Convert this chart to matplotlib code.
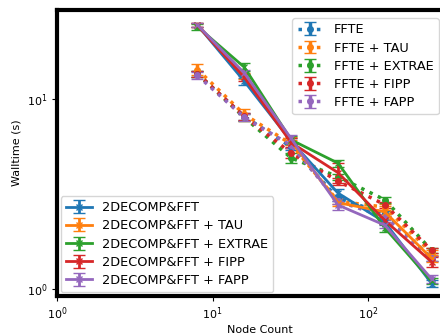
import matplotlib
matplotlib.use("Agg")
import matplotlib.pyplot as plt

nodes = [8, 16, 32, 64, 128, 256]

# 2DECOMP&FFT runs (solid)
dc_labels = ["2DECOMP&FFT", "2DECOMP&FFT + TAU", "2DECOMP&FFT + EXTRAE",
             "2DECOMP&FFT + FIPP", "2DECOMP&FFT + FAPP"]
dc_times = [
    [24.5, 12.4, 6.0, 3.2, 2.25, 1.07],
    [24.6, 13.2, 6.0, 2.85, 2.55, 1.45],
    [24.0, 14.7, 6.1, 4.6, 2.1, 1.1],
    [24.4, 13.0, 5.9, 4.1, 2.3, 1.39],
    [24.5, 13.7, 6.2, 2.77, 2.17, 1.13],
]
dc_err = [
    [0.6, 0.5, 0.2, 0.15, 0.08, 0.04],
    [0.6, 0.5, 0.3, 0.12, 0.2, 0.06],
    [0.8, 0.7, 0.3, 0.2, 0.1, 0.04],
    [0.6, 0.5, 0.3, 0.5, 0.1, 0.08],
    [0.6, 0.5, 0.3, 0.15, 0.08, 0.05],
]

# FFTE runs (dotted)
ff_labels = ["FFTE", "FFTE + TAU", "FFTE + EXTRAE", "FFTE + FIPP", "FFTE + FAPP"]
ff_times = [
    [13.5, 8.1, 5.6, 3.0, 2.5, 1.45],
    [14.3, 8.3, 5.8, 2.9, 2.7, 1.55],
    [13.6, 8.0, 4.9, 3.9, 2.95, 1.6],
    [13.6, 8.1, 5.2, 3.7, 2.78, 1.6],
    [13.3, 8.0, 5.7, 2.9, 2.4, 1.45],
]
ff_err = [
    [0.5, 0.3, 0.2, 0.1, 0.08, 0.04],
    [1.0, 0.6, 0.3, 0.1, 0.1, 0.05],
    [0.5, 0.3, 0.3, 0.15, 0.1, 0.05],
    [0.5, 0.3, 0.3, 0.15, 0.1, 0.05],
    [0.5, 0.3, 0.2, 0.1, 0.08, 0.04],
]

colors = ["tab:blue", "tab:orange", "tab:green", "tab:red", "tab:purple"]

fig = plt.figure(figsize=(4.4, 3.34), dpi=100)
ax = fig.add_axes([0.1295, 0.1138, 0.92, 0.8562])

ff_handles = []
for lab, t, e, c in zip(ff_labels, ff_times, ff_err, colors):
    h = ax.errorbar(nodes, t, yerr=e, color=c, ls=":", lw=2.5, marker="o",
                    ms=4, capsize=4, label=lab)
    ff_handles.append(h)

dc_handles = []
for lab, t, e, c in zip(dc_labels, dc_times, dc_err, colors):
    h = ax.errorbar(nodes, t, yerr=e, color=c, ls="-", lw=2, marker="x",
                    ms=5, capsize=4, label=lab)
    dc_handles.append(h)

ax.set_xscale("log")
ax.set_yscale("log")
ax.set_xlim(1, 400)
ax.set_ylim(0.92, 29.4)
ax.minorticks_off()
ax.tick_params(labelsize=8)
for s in ax.spines.values():
    s.set_linewidth(3)

ax.set_xlabel("Node Count", fontsize=8, labelpad=2)
ax.set_ylabel("Walltime (s)", fontsize=8)

leg1 = ax.legend(handles=ff_handles, loc="upper left",
                 bbox_to_anchor=(0.572, 0.985), fontsize=9.3,
                 handlelength=2.0, labelspacing=0.4, borderaxespad=0.3)
ax.add_artist(leg1)
ax.legend(handles=dc_handles, loc="lower left", fontsize=9.3,
          handlelength=2.0, labelspacing=0.4, borderaxespad=0.3)

fig.savefig("out.png", dpi=100)
